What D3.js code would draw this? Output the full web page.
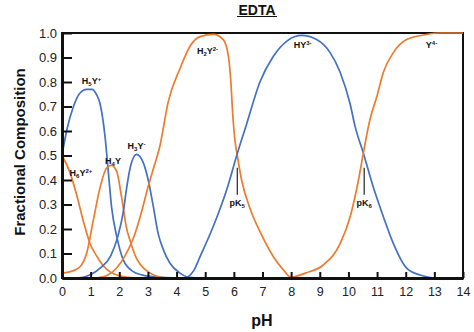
<!DOCTYPE html>
<html><head><meta charset="utf-8">
<script src="https://cdn.jsdelivr.net/npm/d3@7"></script>
<style>body{margin:0;background:#fff}svg{display:block;font-family:"Liberation Sans",Arial,sans-serif}</style>
</head><body><svg id="c" width="474" height="332"></svg>
<script>
// ---- data (pH, fraction) ----
const h6y = [[0,0.5],[0.28,0.43],[0.51,0.34],[0.75,0.23],[0.98,0.14],[1.21,0.09],[1.44,0.05],[1.68,0.025],[1.97,0.01],[2.3,0.003],[2.6,0]];
const h5y = [[0,0.5],[0.16,0.6],[0.4,0.70],[0.63,0.755],[0.86,0.77],[1.04,0.77],[1.2,0.75],[1.33,0.71],[1.5,0.58],[1.62,0.43],[1.73,0.29],[1.91,0.17],[2.14,0.074],[2.49,0.026],[2.9,0.01],[3.5,0.003],[4.0,0]];
const h4y = [[0,0.02],[0.4,0.03],[0.63,0.046],[0.86,0.10],[1.1,0.24],[1.33,0.37],[1.56,0.45],[1.73,0.46],[1.91,0.435],[2.08,0.33],[2.26,0.2],[2.37,0.155],[2.6,0.08],[2.9,0.035],[3.2,0.012],[3.6,0]];
const h3y = [[0.5,0],[0.8,0.005],[1.33,0.04],[1.7,0.09],[1.95,0.17],[2.14,0.27],[2.26,0.37],[2.4,0.46],[2.6,0.505],[2.84,0.47],[3.01,0.4],[3.19,0.29],[3.36,0.18],[3.54,0.115],[3.77,0.06],[4.12,0.02],[4.35,0.005],[4.8,0]];
const h2y = [[1.2,0],[1.6,0.012],[1.9,0.04],[2.2,0.09],[2.5,0.165],[2.8,0.28],[3.0,0.37],[3.2,0.45],[3.42,0.54],[3.71,0.72],[4.12,0.855],[4.47,0.946],[4.82,0.985],[5.28,0.994],[5.63,0.973],[5.81,0.905],[5.89,0.81],[5.96,0.67],[6.04,0.56],[6.12,0.5],[6.27,0.4],[6.56,0.285],[6.91,0.19],[7.38,0.087],[7.73,0.033],[7.96,0.005],[8.6,0]];
const hy = [[4.35,0],[4.6,0.03],[4.82,0.087],[5.28,0.21],[5.75,0.36],[6.1,0.5],[6.45,0.63],[6.91,0.8],[7.38,0.905],[7.85,0.967],[8.37,0.99],[8.89,0.973],[9.36,0.92],[9.71,0.84],[10.06,0.71],[10.23,0.62],[10.52,0.51],[10.87,0.37],[11.22,0.25],[11.57,0.14],[12.03,0.04],[12.5,0.012],[12.96,0]];
const y4 = [[7.96,0],[8.5,0.02],[9.12,0.053],[9.71,0.14],[10.06,0.25],[10.35,0.40],[10.52,0.51],[10.75,0.646],[10.99,0.74],[11.22,0.84],[11.57,0.92],[12.03,0.973],[12.73,0.994],[13.2,1.0],[14,1.0]];
const seriesData = [h6y, h5y, h4y, h3y, h2y, hy, y4];
const seriesColor = ["orange","blue","orange","blue","orange","blue","orange"];
const xTicks = [0,1,2,3,4,5,6,7,8,9,10,11,12,13,14];
const yTicks = [0,0.1,0.2,0.3,0.4,0.5,0.6,0.7,0.8,0.9,1.0];
// species labels: [pH, fraction, base, sub, Y, sup]
const speciesLabels = [
  [0.66,0.415,"H","6","Y","2+"],
  [1.03,0.79,"H","5","Y","+"],
  [1.78,0.465,"H","4","Y",""],
  [2.6,0.525,"H","3","Y","-"],
  [5.08,0.915,"H","2","Y","2-"],
  [8.4,0.94,"H","","Y","3-"],
  [12.9,0.94,"","","Y","4-"]
];
const pkMarks = [[6.12,"5"],[10.55,"6"]];

const colors = {orange:"#EC7C30", blue:"#4371C4"};
const svg = d3.select("#c");
const x = d3.scaleLinear().domain([0,14]).range([62,463]);
const y = d3.scaleLinear().domain([0,1]).range([278,33]);

// frame top/right
svg.append("rect").attr("x",62).attr("y",33).attr("width",401).attr("height",245)
  .attr("fill","none").attr("stroke","#111").attr("stroke-width",2);

const line = d3.line().x(d=>x(d[0])).y(d=>y(d[1])).curve(d3.curveMonotoneX);
seriesData.forEach((s,i)=>{
  svg.append("path").attr("d",line(s)).attr("fill","none")
    .attr("stroke",colors[seriesColor[i]]).attr("stroke-width",1.7);
});

// axes
const yAxis = svg.append("g").attr("transform","translate(62,0)")
  .call(d3.axisLeft(y).tickValues(yTicks).tickFormat(d3.format(".1f")).tickSizeInner(-10).tickSizeOuter(0).tickPadding(5));
const xAxis = svg.append("g").attr("transform","translate(0,278)")
  .call(d3.axisBottom(x).tickValues(xTicks).tickFormat(d3.format("d")).tickSizeInner(-6).tickSizeOuter(0).tickPadding(9));
[yAxis,xAxis].forEach(g=>{
  g.select(".domain").attr("stroke","#111").attr("stroke-width",3);
  g.selectAll(".tick line").attr("stroke","#111").attr("stroke-width",2);
  g.selectAll(".tick text").attr("fill","#222").attr("font-family","Liberation Sans, Arial, sans-serif");
});
yAxis.selectAll(".tick text").attr("font-size",13);
xAxis.selectAll(".tick text").attr("font-size",12.5);

// species labels
speciesLabels.forEach(l=>{
  const t = svg.append("text").attr("x",x(l[0])).attr("y",y(l[1]))
    .attr("text-anchor","middle").attr("font-size",9).attr("font-weight","bold").attr("fill","#111");
  if(l[2]) t.append("tspan").text(l[2]);
  if(l[3]) t.append("tspan").attr("font-size",6).attr("dy",2).text(l[3]);
  t.append("tspan").attr("dy", l[3]?-2:0).text(l[4]);
  if(l[5]) t.append("tspan").attr("font-size",6).attr("dy",-3).text(l[5]);
});

// pK marks
pkMarks.forEach(p=>{
  svg.append("line").attr("x1",x(p[0])).attr("x2",x(p[0])).attr("y1",y(0.45)).attr("y2",y(0.34))
    .attr("stroke","#222").attr("stroke-width",1.2);
  const t = svg.append("text").attr("x",x(p[0])).attr("y",y(0.295)).attr("text-anchor","middle")
    .attr("font-size",9).attr("font-weight","bold").attr("fill","#111");
  t.append("tspan").text("pK");
  t.append("tspan").attr("font-size",6).attr("dy",2).text(p[1]);
});

// titles
svg.append("text").attr("x",257).attr("y",15).attr("text-anchor","middle")
  .attr("font-size",14).attr("font-weight","bold").attr("fill","#111").text("EDTA");
svg.append("line").attr("x1",237).attr("x2",277).attr("y1",16.5).attr("y2",16.5).attr("stroke","#111").attr("stroke-width",1.2);
svg.append("text").attr("transform","translate(25,152) rotate(-90)").attr("text-anchor","middle")
  .attr("font-size",15).attr("font-weight","bold").attr("fill","#111").text("Fractional Composition");
svg.append("text").attr("x",262).attr("y",326).attr("text-anchor","middle")
  .attr("font-size",16).attr("font-weight","bold").attr("fill","#111").text("pH");
</script></body></html>
